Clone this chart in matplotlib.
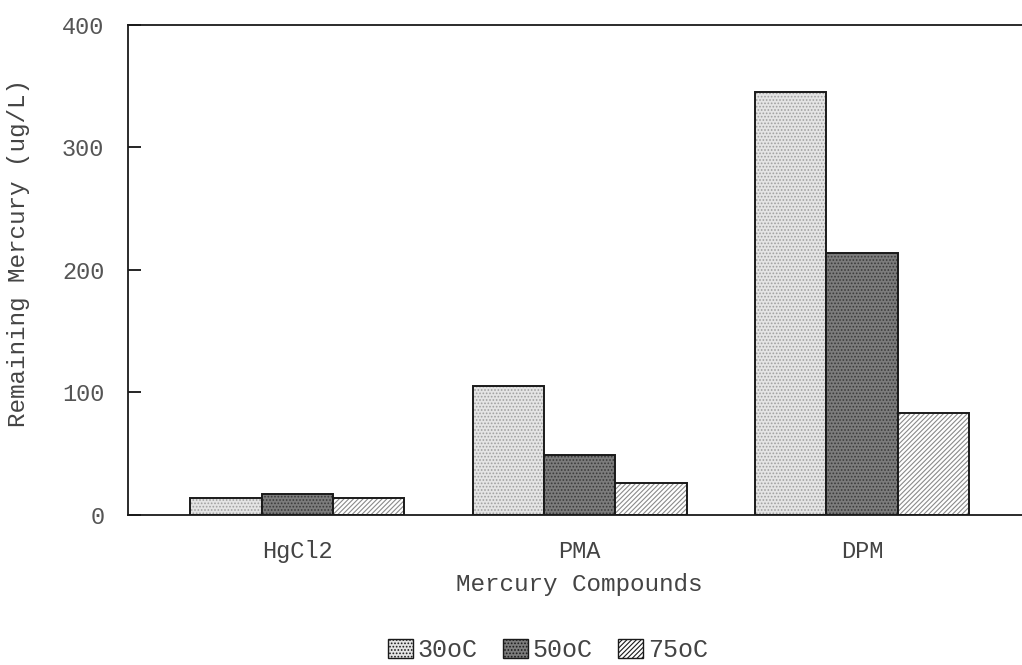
import numpy as np
import matplotlib
matplotlib.use("Agg")
import matplotlib.pyplot as plt
from matplotlib.patches import Patch

compounds = ["HgCl2", "PMA", "DPM"]
temps = ["30oC", "50oC", "75oC"]
hg_30 = [14, 105, 345]
hg_50 = [17, 49, 214]
hg_75 = [14, 26, 83]

plt.rcParams['font.family'] = ['Liberation Mono', 'DejaVu Sans Mono']
plt.rcParams['hatch.linewidth'] = 0.8

fig = plt.figure(figsize=(10.22, 6.65), dpi=100)
ax = fig.add_axes([0.1252, 0.2256, 0.884, 0.7368])

x = np.arange(len(compounds))
w = 0.253
# face colour, hatch colour, hatch pattern per series
styles = [("#e4e4e4", "#a0a0a0", "....."),
          ("#7c7c7c", "#3a3a3a", "....."),
          ("#ffffff", "#8a8a8a", "///////")]

handles = []
for i, vals in enumerate([hg_30, hg_50, hg_75]):
    fc, hc, hp = styles[i]
    pos = x + (i - 1) * w
    ax.bar(pos, vals, w, color=fc, edgecolor=hc, hatch=hp, linewidth=0)
    ax.bar(pos, vals, w, fill=False, edgecolor="#1a1a1a", linewidth=1.4)
    handles.append(Patch(facecolor=fc, edgecolor="#1a1a1a", hatch=hp, linewidth=1.0))

ax.set_xlim(-0.6, 2.6)
ax.set_ylim(0, 400)
ax.set_yticks([0, 100, 200, 300, 400])
ax.set_xticks(x)
ax.set_xticklabels(compounds)
ax.tick_params(axis="y", direction="in", length=9, width=1.2, pad=17,
               labelsize=17, labelcolor="#555555")
ax.tick_params(axis="x", length=0, pad=18, labelsize=17, labelcolor="#444444")
ax.spines["right"].set_visible(False)
for s in ["left", "bottom", "top"]:
    ax.spines[s].set_linewidth(1.3)
    ax.spines[s].set_color("#1a1a1a")

ax.set_xlabel("Mercury Compounds", fontsize=17.5, color="#444444", labelpad=7)
ax.set_ylabel("Remaining Mercury (ug/L)", fontsize=17.5, color="#444444")
ax.yaxis.set_label_coords(-0.108, 0.535)

fig.legend(handles, temps, loc="center", bbox_to_anchor=(0.536, 0.022),
           ncol=3, frameon=False, fontsize=18, handlelength=1.0,
           handleheight=0.8, handletextpad=0.2, columnspacing=1.0,
           labelcolor="#444444")

fig.savefig("out.png", dpi=100)
